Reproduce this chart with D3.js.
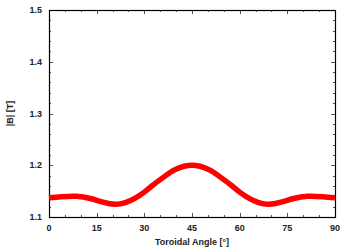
<!DOCTYPE html>
<meta charset="utf-8">
<title>|B| vs toroidal angle</title>
<body>
<script src="https://cdn.jsdelivr.net/npm/d3@7"></script>
<style>
html, body {
    margin: 0;
    background: #fff;
}
svg text {
    font-family: "Liberation Sans", Arial, sans-serif;
    font-weight: bold;
    fill: #222;
}
</style>
<script>
// data
var angles = [0, 4, 8.7, 13, 17, 20.8, 24, 27, 30, 33, 36.5, 39.5, 42.5, 45, 47.5, 50.5, 53.5, 57, 60, 63, 66, 69.2, 73, 77, 81.3, 86, 90];
var field  = [1.137, 1.1392, 1.140, 1.1358, 1.1287, 1.1245, 1.1277, 1.136, 1.148, 1.163, 1.179, 1.191, 1.198, 1.200, 1.198, 1.191, 1.179, 1.163, 1.148, 1.136, 1.1277, 1.1245, 1.1287, 1.1358, 1.140, 1.1392, 1.137];
var xTicks = [0, 15, 30, 45, 60, 75, 90];
var yTicks = [1.1, 1.2, 1.3, 1.4, 1.5];

var width = 347,
    height = 250,
    margin = {left: 49, right: 12, top: 10, bottom: 33};

var svg = d3.select("body").append("svg")
    .attr("width", width)
    .attr("height", height);

var x = d3.scaleLinear().domain([0, 90]).range([margin.left, width - margin.right]);
var y = d3.scaleLinear().domain([1.1, 1.5]).range([height - margin.bottom, margin.top]);

var x0 = x.range()[0], x1 = x.range()[1],
    y0 = y.range()[0], y1 = y.range()[1];

// ticks on all four sides, pointing inward
var xMinor = d3.range(0, 90.01, 5),
    yMinor = d3.range(1.1, 1.501, 0.02);

var ticks = svg.append("g").attr("stroke", "#555").attr("stroke-width", 1);
xMinor.forEach(function(d) {
    var major = xTicks.indexOf(d) >= 0, len = major ? 4 : 2, px = Math.round(x(d)) + 0.5;
    ticks.append("line").attr("x1", px).attr("x2", px).attr("y1", y0).attr("y2", y0 - len);
    ticks.append("line").attr("x1", px).attr("x2", px).attr("y1", y1).attr("y2", y1 + len);
});
yMinor.forEach(function(d) {
    var major = Math.abs(d * 10 - Math.round(d * 10)) < 1e-6, len = major ? 4 : 2, py = Math.round(y(d)) + 0.5;
    ticks.append("line").attr("y1", py).attr("y2", py).attr("x1", x0).attr("x2", x0 + len);
    ticks.append("line").attr("y1", py).attr("y2", py).attr("x1", x1).attr("x2", x1 - len);
});

svg.append("rect")
    .attr("x", x0 + 0.5).attr("y", y1 + 0.5)
    .attr("width", x1 - x0).attr("height", y0 - y1)
    .attr("fill", "none").attr("stroke", "#000").attr("stroke-width", 1.2);

svg.selectAll("text.xt").data(xTicks).enter().append("text")
    .attr("class", "xt")
    .attr("x", function(d) { return x(d); })
    .attr("y", y0 + 14)
    .attr("text-anchor", "middle")
    .style("font-size", "9px")
    .text(function(d) { return d; });

svg.selectAll("text.yt").data(yTicks).enter().append("text")
    .attr("class", "yt")
    .attr("x", x0 - 7)
    .attr("y", function(d) { return y(d) + 3; })
    .attr("text-anchor", "end")
    .style("font-size", "9px")
    .text(function(d) { return d.toFixed(1); });

svg.append("text")
    .attr("x", (x0 + x1) / 2)
    .attr("y", 245)
    .attr("text-anchor", "middle")
    .style("font-size", "9px")
    .text("Toroidal Angle [°]");

svg.append("text")
    .attr("transform", "translate(13," + ((y0 + y1) / 2) + ") rotate(-90)")
    .attr("text-anchor", "middle")
    .style("font-size", "9px")
    .text("|B| [T]");

var line = d3.line()
    .x(function(d, i) { return x(angles[i]); })
    .y(function(d) { return y(d); })
    .curve(d3.curveNatural);

svg.append("path")
    .datum(field)
    .attr("d", line)
    .attr("fill", "none")
    .attr("stroke", "#f00")
    .attr("stroke-width", 5.5)
    .attr("stroke-linecap", "butt");
</script>
